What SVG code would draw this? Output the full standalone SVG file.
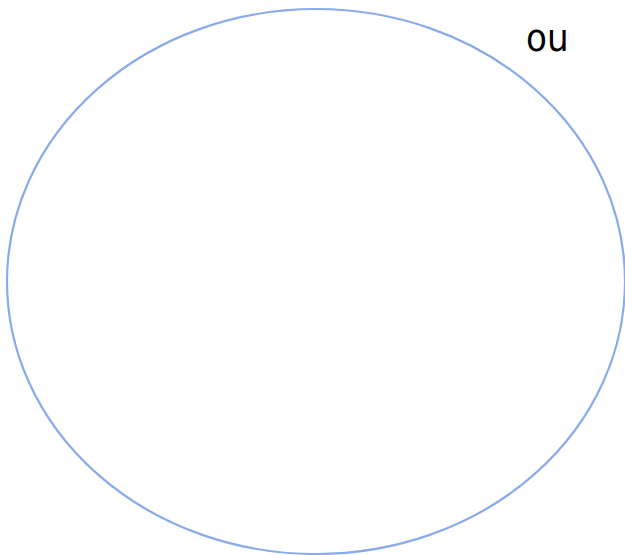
<svg xmlns="http://www.w3.org/2000/svg" width="625" height="555" viewBox="0 0 625 555">
<style>.n{fill:none;stroke:#8aabeb;stroke-width:2.2}.t{font-family:"DejaVu Sans Condensed","DejaVu Sans",sans-serif;font-stretch:condensed;font-size:38px;fill:#000}</style>
<rect width="625" height="555" fill="#fff"/>
<g id="node1"><ellipse class="n" cx="316" cy="281.5" rx="309" ry="272.5"/></g>
<g id="label"><text class="t" x="526" y="51">ou</text></g>
<g id="connectors"/>
</svg>
